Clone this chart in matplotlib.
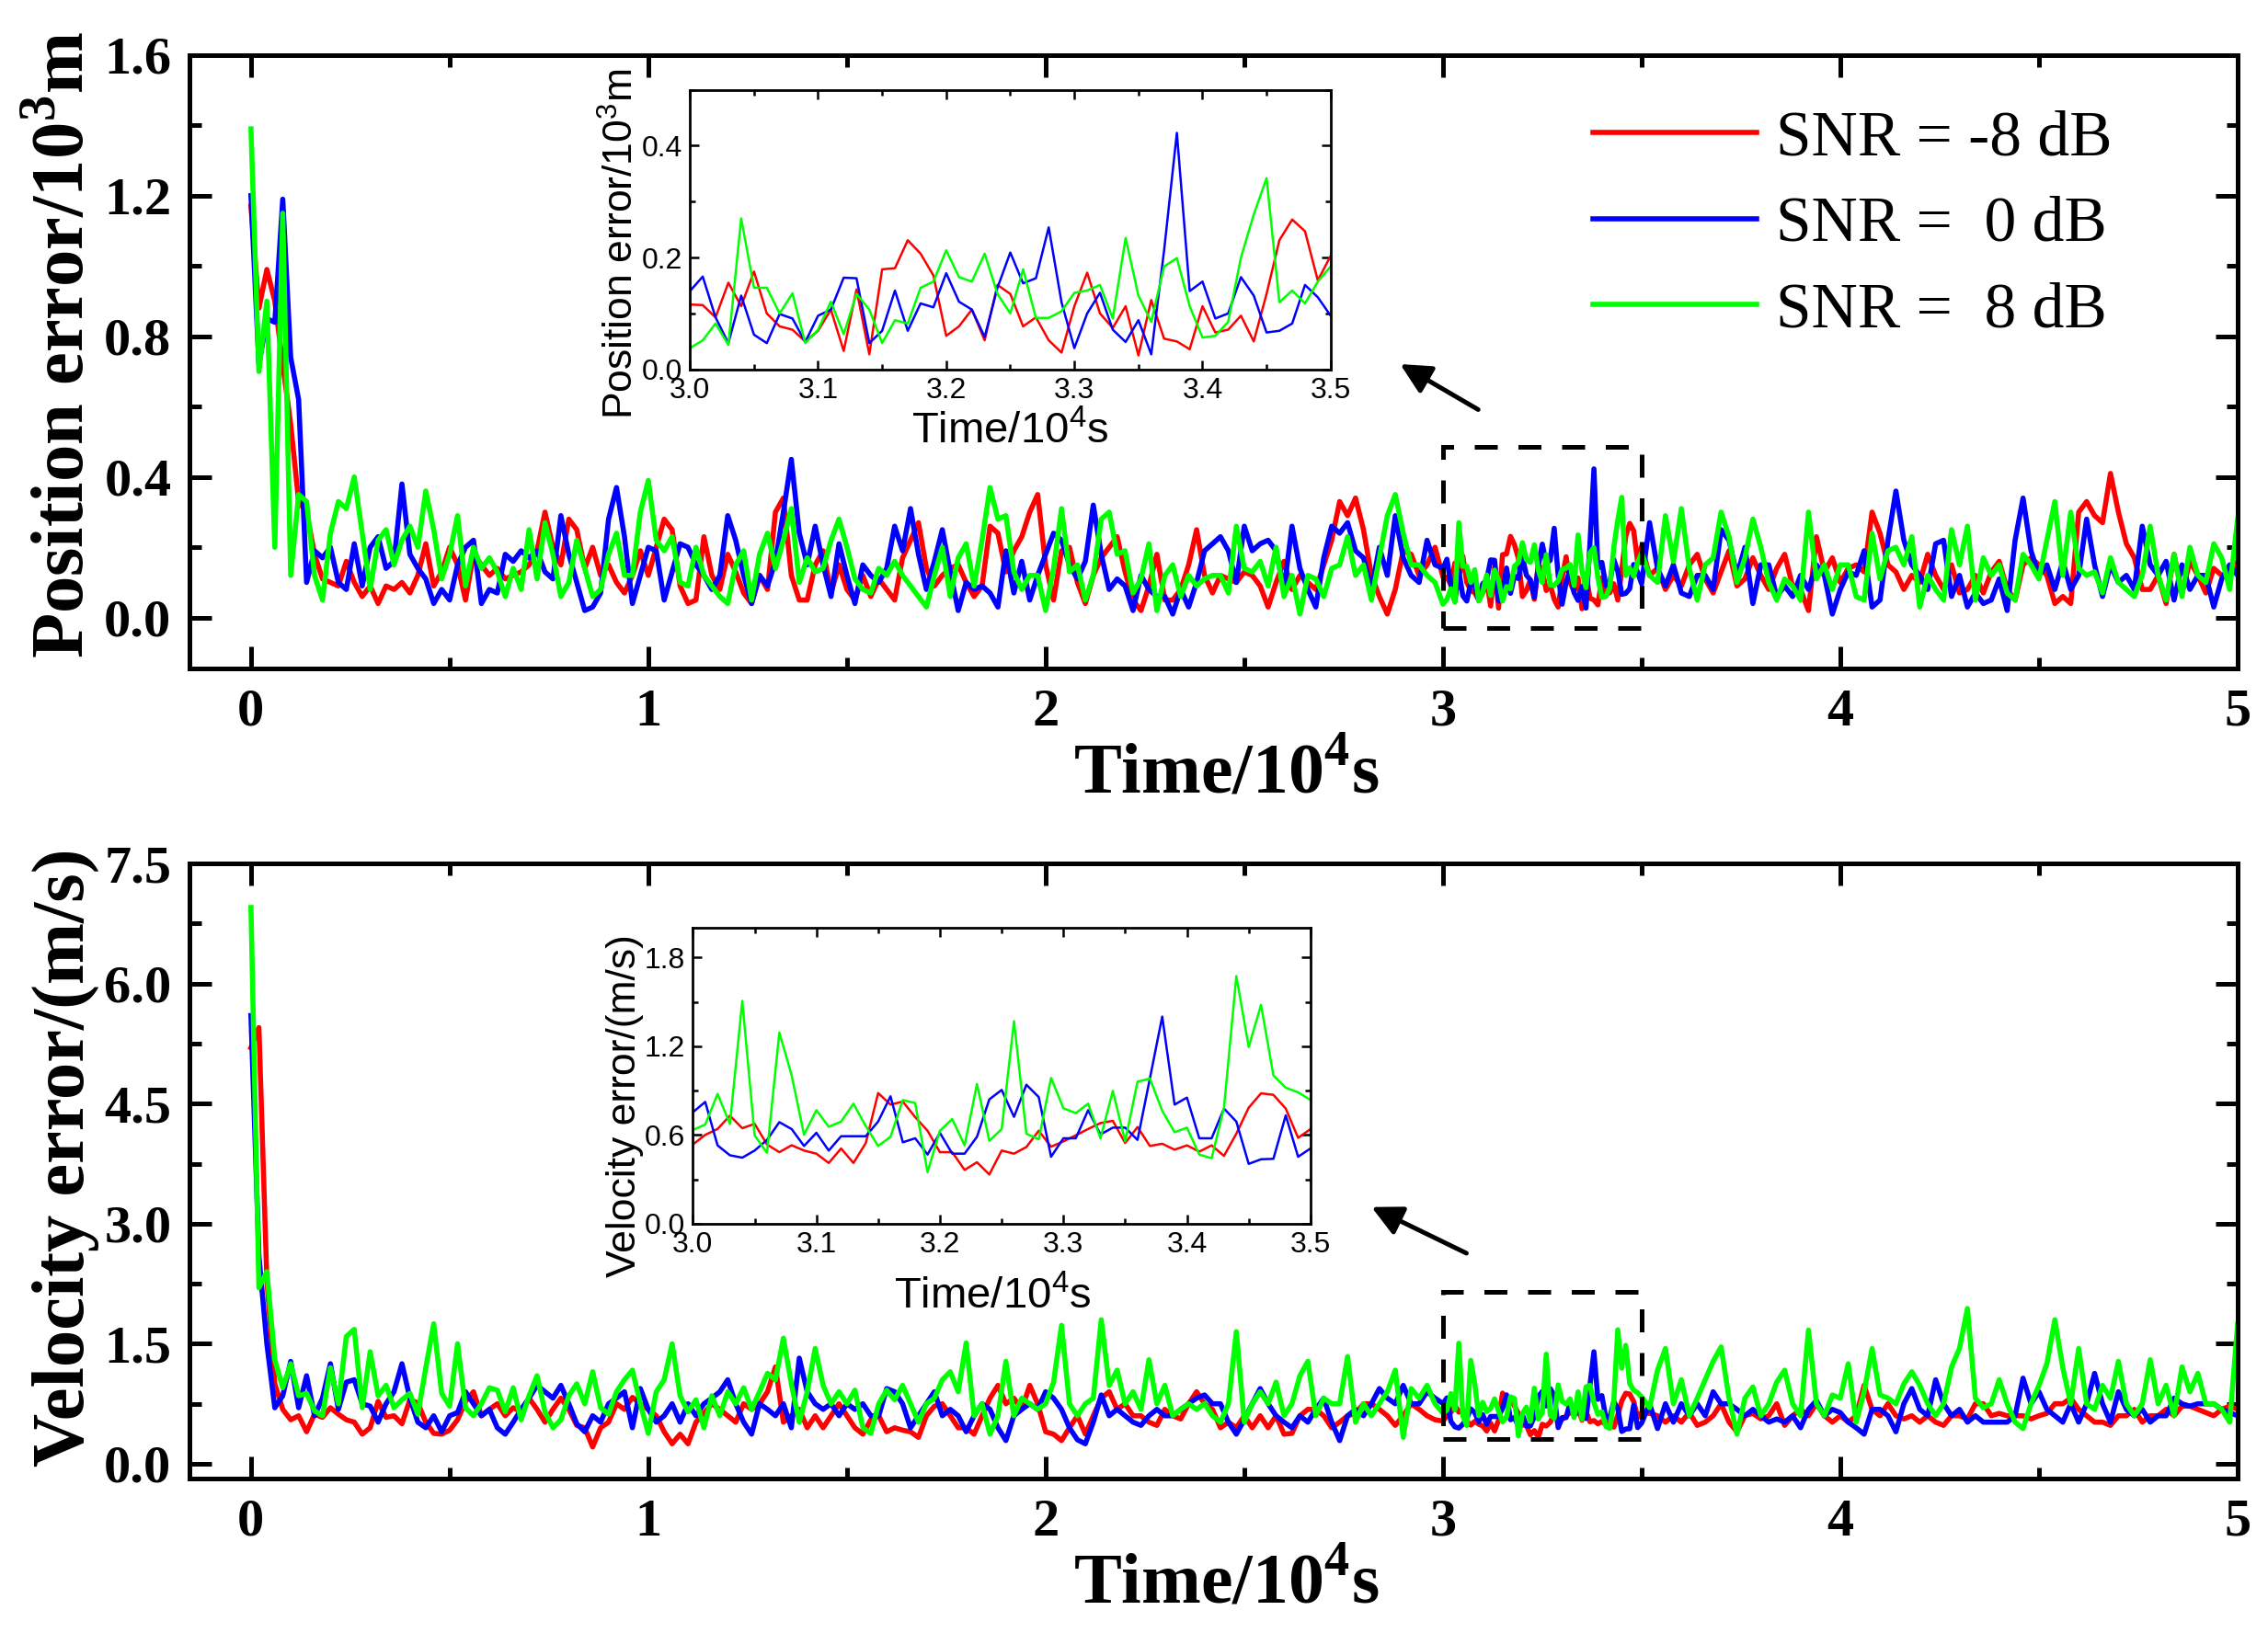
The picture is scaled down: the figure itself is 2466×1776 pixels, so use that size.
import numpy as np
import matplotlib
matplotlib.use("Agg")
import matplotlib.pyplot as plt
from matplotlib.ticker import MultipleLocator, FormatStrFormatter
from matplotlib.patches import Rectangle

plt.rcParams['mathtext.fontset'] = 'custom'
plt.rcParams['mathtext.rm'] = 'Liberation Sans'
plt.rcParams['mathtext.bf'] = 'Liberation Serif:bold'

# ~ Données (temps en 10^4 s)
labels = ["SNR = -8 dB", "SNR =  0 dB", "SNR =  8 dB"]
colors = ["#ff0000", "#0000ff", "#00ff00"]

# ~ pas de 0.02 de 0 a 2.98
pos_red_a = [1.17, 0.88, 0.99, 0.90, 0.72, 0.55, 0.33, 0.30, 0.18, 0.11,
             0.10, 0.09, 0.16, 0.10, 0.06, 0.09, 0.04, 0.09, 0.08, 0.10,
             0.07, 0.12, 0.21, 0.09, 0.13, 0.20, 0.15, 0.05, 0.18, 0.15,
             0.12, 0.14, 0.11, 0.12, 0.13, 0.15, 0.19, 0.30, 0.20, 0.15,
             0.28, 0.25, 0.14, 0.20, 0.12, 0.15, 0.10, 0.07, 0.12, 0.19,
             0.12, 0.20, 0.28, 0.25, 0.09, 0.04, 0.05, 0.23, 0.12, 0.08,
             0.18, 0.13, 0.07, 0.04, 0.12, 0.08, 0.30, 0.34, 0.12, 0.05,
             0.05, 0.15, 0.19, 0.07, 0.15, 0.08, 0.05, 0.12, 0.06, 0.11,
             0.08, 0.05, 0.17, 0.22, 0.27, 0.14, 0.09, 0.12, 0.14, 0.15,
             0.10, 0.06, 0.09, 0.26, 0.24, 0.13, 0.19, 0.23, 0.30, 0.35,
             0.15, 0.05, 0.19, 0.20, 0.10, 0.04, 0.12, 0.17, 0.20, 0.23,
             0.13, 0.05, 0.02, 0.09, 0.18, 0.05, 0.05, 0.08, 0.15, 0.25,
             0.12, 0.07, 0.12, 0.11, 0.10, 0.13, 0.12, 0.09, 0.03, 0.10,
             0.16, 0.08, 0.12, 0.10, 0.08, 0.15, 0.22, 0.33, 0.29, 0.34,
             0.25, 0.12, 0.06, 0.01, 0.08, 0.19, 0.18, 0.12, 0.15, 0.20]
pos_blue_a = [1.20, 0.72, 0.85, 0.84, 1.19, 0.74, 0.62, 0.10, 0.19, 0.17,
              0.20, 0.10, 0.08, 0.21, 0.09, 0.20, 0.23, 0.14, 0.16, 0.38,
              0.18, 0.14, 0.11, 0.04, 0.08, 0.05, 0.15, 0.20, 0.22, 0.04,
              0.08, 0.07, 0.18, 0.16, 0.19, 0.17, 0.19, 0.13, 0.11, 0.29,
              0.18, 0.10, 0.02, 0.03, 0.07, 0.28, 0.37, 0.23, 0.04, 0.12,
              0.20, 0.19, 0.05, 0.13, 0.21, 0.20, 0.15, 0.12, 0.08, 0.12,
              0.29, 0.22, 0.12, 0.04, 0.12, 0.09, 0.16, 0.30, 0.45, 0.24,
              0.15, 0.26, 0.15, 0.06, 0.21, 0.12, 0.04, 0.15, 0.12, 0.10,
              0.14, 0.26, 0.19, 0.31, 0.18, 0.08, 0.16, 0.25, 0.13, 0.02,
              0.10, 0.08, 0.09, 0.07, 0.03, 0.19, 0.07, 0.16, 0.05, 0.12,
              0.18, 0.24, 0.22, 0.15, 0.11, 0.16, 0.32, 0.18, 0.08, 0.11,
              0.09, 0.02, 0.12, 0.08, 0.06, 0.06, 0.01, 0.08, 0.03, 0.10,
              0.19, 0.21, 0.23, 0.19, 0.10, 0.26, 0.19, 0.21, 0.22, 0.19,
              0.08, 0.26, 0.14, 0.08, 0.03, 0.17, 0.26, 0.24, 0.27, 0.19,
              0.17, 0.08, 0.20, 0.12, 0.29, 0.17, 0.12, 0.10, 0.22, 0.15]
pos_green_a = [1.39, 0.70, 0.90, 0.20, 1.15, 0.12, 0.35, 0.33, 0.12, 0.05,
               0.24, 0.33, 0.31, 0.40, 0.24, 0.08, 0.22, 0.25, 0.15, 0.22,
               0.26, 0.20, 0.36, 0.25, 0.11, 0.18, 0.29, 0.09, 0.20, 0.14,
               0.17, 0.13, 0.06, 0.14, 0.08, 0.25, 0.11, 0.27, 0.18, 0.06,
               0.10, 0.22, 0.14, 0.06, 0.08, 0.18, 0.24, 0.12, 0.12, 0.30,
               0.39, 0.22, 0.19, 0.23, 0.10, 0.09, 0.20, 0.12, 0.09, 0.06,
               0.04, 0.15, 0.19, 0.05, 0.18, 0.24, 0.14, 0.22, 0.31, 0.10,
               0.17, 0.13, 0.14, 0.22, 0.28, 0.20, 0.11, 0.08, 0.07, 0.14,
               0.12, 0.16, 0.12, 0.09, 0.06, 0.03, 0.12, 0.20, 0.06, 0.17,
               0.21, 0.09, 0.22, 0.37, 0.28, 0.29, 0.13, 0.08, 0.12, 0.12,
               0.02, 0.14, 0.31, 0.13, 0.15, 0.05, 0.12, 0.28, 0.30, 0.18,
               0.19, 0.07, 0.11, 0.21, 0.02, 0.12, 0.15, 0.06, 0.12, 0.09,
               0.11, 0.12, 0.12, 0.07, 0.26, 0.14, 0.13, 0.16, 0.09, 0.20,
               0.06, 0.12, 0.01, 0.12, 0.11, 0.06, 0.14, 0.15, 0.23, 0.12,
               0.15, 0.05, 0.17, 0.29, 0.35, 0.24, 0.15, 0.15, 0.12, 0.10]

# ~ zoom 3.0 - 3.5, pas de 0.01
pos_in_red = [0.116, 0.115, 0.093, 0.155, 0.113, 0.175, 0.100, 0.077, 0.071, 0.050,
              0.069, 0.107, 0.033, 0.143, 0.027, 0.179, 0.181, 0.231, 0.207, 0.168,
              0.060, 0.077, 0.107, 0.052, 0.151, 0.135, 0.077, 0.093, 0.052, 0.030,
              0.113, 0.173, 0.100, 0.074, 0.113, 0.025, 0.124, 0.055, 0.050, 0.036,
              0.113, 0.066, 0.071, 0.096, 0.050, 0.135, 0.231, 0.268, 0.247, 0.159,
              0.203]
pos_in_blue = [0.140, 0.166, 0.093, 0.047, 0.132, 0.062, 0.047, 0.099, 0.091, 0.049,
               0.096, 0.107, 0.164, 0.163, 0.047, 0.069, 0.141, 0.069, 0.118, 0.111,
               0.172, 0.121, 0.107, 0.058, 0.146, 0.209, 0.154, 0.163, 0.254, 0.120,
               0.038, 0.100, 0.137, 0.071, 0.049, 0.088, 0.027, 0.212, 0.423, 0.140,
               0.157, 0.091, 0.100, 0.165, 0.132, 0.066, 0.069, 0.082, 0.151, 0.129,
               0.096]
pos_in_green = [0.038, 0.052, 0.082, 0.044, 0.270, 0.146, 0.146, 0.100, 0.136, 0.047,
                0.071, 0.121, 0.063, 0.135, 0.107, 0.047, 0.088, 0.082, 0.146, 0.157,
                0.213, 0.165, 0.157, 0.207, 0.135, 0.100, 0.179, 0.092, 0.092, 0.104,
                0.137, 0.141, 0.151, 0.091, 0.235, 0.132, 0.085, 0.184, 0.199, 0.113,
                0.057, 0.060, 0.085, 0.200, 0.277, 0.342, 0.120, 0.141, 0.118, 0.157,
                0.184]

# ~ pas de 0.02 de 3.52 a 5.0
pos_red_b = [0.12, 0.14, 0.08, 0.12, 0.09, 0.15, 0.18, 0.11, 0.07, 0.13,
             0.19, 0.09, 0.11, 0.17, 0.12, 0.08, 0.14, 0.18, 0.09, 0.08,
             0.02, 0.23, 0.13, 0.17, 0.10, 0.14, 0.15, 0.13, 0.30, 0.24,
             0.15, 0.13, 0.08, 0.12, 0.10, 0.18, 0.12, 0.08, 0.15, 0.07,
             0.08, 0.12, 0.07, 0.13, 0.16, 0.08, 0.05, 0.15, 0.17, 0.15,
             0.12, 0.04, 0.06, 0.04, 0.30, 0.33, 0.29, 0.27, 0.41, 0.30,
             0.21, 0.17, 0.08, 0.08, 0.12, 0.04, 0.18, 0.07, 0.16, 0.12,
             0.07, 0.14, 0.12, 0.12, 0.16]
pos_blue_b = [0.27, 0.14, 0.09, 0.15, 0.07, 0.06, 0.12, 0.12, 0.08, 0.25,
              0.22, 0.12, 0.20, 0.04, 0.15, 0.15, 0.06, 0.09, 0.06, 0.12,
              0.08, 0.15, 0.12, 0.01, 0.08, 0.13, 0.12, 0.19, 0.03, 0.05,
              0.22, 0.36, 0.22, 0.15, 0.12, 0.08, 0.21, 0.22, 0.06, 0.12,
              0.03, 0.07, 0.04, 0.05, 0.11, 0.02, 0.22, 0.34, 0.19, 0.12,
              0.15, 0.08, 0.16, 0.08, 0.12, 0.28, 0.15, 0.06, 0.15, 0.10,
              0.12, 0.08, 0.26, 0.15, 0.12, 0.16, 0.05, 0.15, 0.08, 0.12,
              0.12, 0.03, 0.11, 0.15, 0.12]
pos_green_b = [0.12, 0.10, 0.29, 0.16, 0.31, 0.14, 0.05, 0.15, 0.17, 0.30,
               0.23, 0.10, 0.17, 0.28, 0.20, 0.10, 0.05, 0.11, 0.09, 0.05,
               0.30, 0.11, 0.15, 0.08, 0.15, 0.15, 0.06, 0.05, 0.24, 0.11,
               0.19, 0.20, 0.15, 0.23, 0.03, 0.12, 0.08, 0.05, 0.25, 0.15,
               0.26, 0.05, 0.17, 0.12, 0.15, 0.07, 0.05, 0.18, 0.15, 0.11,
               0.22, 0.33, 0.12, 0.30, 0.14, 0.12, 0.13, 0.07, 0.17, 0.10,
               0.08, 0.06, 0.12, 0.26, 0.12, 0.05, 0.18, 0.06, 0.20, 0.12,
               0.10, 0.21, 0.17, 0.08, 0.28]

vel_red_a = [5.20, 5.45, 2.30, 1.00, 0.68, 0.55, 0.60, 0.40, 0.62, 0.58,
             0.70, 0.62, 0.55, 0.52, 0.37, 0.45, 0.78, 0.58, 0.60, 0.50,
             0.80, 0.76, 0.52, 0.38, 0.37, 0.42, 0.55, 0.78, 0.90, 0.60,
             0.68, 0.75, 0.60, 0.70, 0.65, 0.82, 0.68, 0.52, 0.68, 0.82,
             0.68, 0.48, 0.45, 0.21, 0.45, 0.52, 0.75, 0.68, 0.83, 0.75,
             0.68, 0.60, 0.40, 0.25, 0.37, 0.25, 0.52, 0.63, 0.75, 0.68,
             0.60, 0.52, 0.75, 0.68, 0.75, 0.90, 1.21, 0.52, 0.60, 0.68,
             0.45, 0.60, 0.45, 0.60, 0.75, 0.60, 0.45, 0.37, 0.55, 0.60,
             0.40, 0.45, 0.42, 0.40, 0.33, 0.60, 0.72, 0.75, 0.60, 0.45,
             0.45, 0.37, 0.60, 0.82, 0.98, 0.75, 0.82, 0.68, 0.98, 0.75,
             0.40, 0.37, 0.29, 0.45, 0.60, 0.37, 0.60, 0.82, 0.90, 0.68,
             0.75, 0.60, 0.60, 0.52, 0.48, 0.68, 0.60, 0.56, 0.75, 0.90,
             0.75, 0.68, 0.45, 0.52, 0.45, 0.60, 0.45, 0.60, 0.45, 0.60,
             0.37, 0.38, 0.60, 0.68, 0.68, 0.60, 0.45, 0.52, 0.60, 0.63,
             0.75, 0.75, 0.68, 0.60, 0.48, 0.60, 0.75, 0.68, 0.60, 0.55]
vel_blue_a = [5.60, 2.60, 1.50, 0.70, 0.85, 1.28, 0.70, 1.10, 0.60, 0.82,
              1.25, 0.68, 1.02, 1.05, 0.75, 0.72, 0.52, 0.75, 0.90, 1.25,
              0.82, 0.52, 0.45, 0.60, 0.40, 0.60, 0.64, 0.90, 0.75, 0.60,
              0.68, 0.45, 0.37, 0.52, 0.68, 0.82, 0.98, 0.90, 0.82, 0.98,
              0.75, 0.50, 0.40, 0.60, 0.52, 0.75, 0.82, 0.90, 0.45, 0.94,
              0.68, 0.52, 0.60, 0.75, 0.52, 0.75, 0.60, 0.75, 0.82, 0.90,
              1.05, 0.75, 0.52, 0.37, 0.75, 0.68, 0.60, 0.75, 0.45, 1.32,
              0.90, 0.75, 0.68, 0.75, 0.60, 0.75, 0.68, 0.75, 0.60, 0.60,
              0.94, 0.90, 0.75, 0.45, 0.60, 0.75, 0.90, 0.60, 0.68, 0.60,
              0.40, 0.60, 0.75, 0.68, 0.45, 0.29, 0.60, 0.68, 0.75, 0.68,
              0.90, 0.82, 0.68, 0.45, 0.30, 0.25, 0.52, 0.86, 0.60, 0.68,
              0.60, 0.52, 0.48, 0.60, 0.68, 0.60, 0.60, 0.68, 0.75, 0.82,
              0.86, 0.75, 0.75, 0.52, 0.37, 0.55, 0.75, 0.94, 0.75, 0.60,
              0.52, 0.45, 0.60, 0.52, 0.68, 0.82, 0.52, 0.29, 0.60, 0.68,
              0.60, 0.75, 0.94, 0.82, 0.75, 0.98, 0.75, 0.75, 0.90, 0.82]
vel_green_a = [6.95, 2.20, 2.40, 1.30, 0.95, 1.25, 0.85, 0.88, 0.66, 0.60,
               1.20, 0.75, 1.59, 1.68, 0.70, 1.40, 0.85, 0.98, 0.70, 0.80,
               0.88, 0.62, 1.20, 1.75, 0.88, 0.72, 1.50, 0.70, 0.60, 0.75,
               0.95, 0.92, 0.65, 0.95, 0.55, 0.85, 1.10, 0.65, 0.45, 0.55,
               0.85, 1.00, 0.75, 1.15, 0.70, 0.62, 0.90, 1.05, 1.17, 0.75,
               0.38, 0.90, 1.05, 1.50, 0.85, 0.65, 0.80, 0.45, 0.85, 0.60,
               0.90, 0.75, 0.95, 0.68, 0.90, 1.13, 1.05, 1.57, 1.00, 0.52,
               0.90, 1.44, 0.98, 0.75, 0.90, 0.75, 0.92, 0.45, 0.38, 0.75,
               0.92, 0.80, 0.98, 0.75, 0.52, 0.75, 0.82, 1.05, 1.15, 0.90,
               1.51, 0.60, 0.75, 0.37, 0.60, 1.28, 0.60, 0.82, 0.75, 0.68,
               0.75, 1.02, 1.73, 0.75, 0.60, 0.75, 0.82, 1.80, 0.98, 1.17,
               0.75, 0.90, 0.68, 1.30, 0.75, 0.98, 0.60, 0.68, 0.75, 0.68,
               0.75, 0.60, 0.52, 0.75, 1.65, 0.52, 0.75, 0.90, 0.75, 1.02,
               0.60, 0.75, 1.10, 1.28, 0.60, 0.82, 0.75, 0.75, 1.34, 0.52,
               0.75, 0.60, 0.75, 0.90, 1.17, 0.33, 0.94, 0.82, 0.98, 0.75]

vel_in_red = [0.535, 0.600, 0.640, 0.730, 0.645, 0.675, 0.535, 0.483, 0.530, 0.494,
              0.473, 0.410, 0.508, 0.410, 0.545, 0.883, 0.805, 0.825, 0.720, 0.628,
              0.483, 0.483, 0.363, 0.415, 0.332, 0.494, 0.473, 0.518, 0.628, 0.520,
              0.556, 0.597, 0.640, 0.680, 0.695, 0.545, 0.653, 0.525, 0.540, 0.500,
              0.529, 0.487, 0.529, 0.458, 0.608, 0.784, 0.881, 0.871, 0.778, 0.580,
              0.639]
vel_in_blue = [0.753, 0.823, 0.529, 0.462, 0.446, 0.494, 0.566, 0.686, 0.639, 0.525,
               0.614, 0.494, 0.591, 0.591, 0.591, 0.690, 0.861, 0.550, 0.577, 0.467,
               0.614, 0.473, 0.473, 0.587, 0.840, 0.904, 0.722, 0.939, 0.856, 0.452,
               0.577, 0.577, 0.767, 0.603, 0.649, 0.649, 0.566, 0.981, 1.400, 0.805,
               0.852, 0.577, 0.577, 0.778, 0.690, 0.404, 0.435, 0.438, 0.732, 0.452,
               0.508]
vel_in_green = [0.633, 0.670, 0.877, 0.674, 1.506, 0.597, 0.479, 1.292, 1.002, 0.601,
                0.767, 0.655, 0.690, 0.811, 0.659, 0.525, 0.587, 0.836, 0.815, 0.348,
                0.628, 0.707, 0.529, 0.944, 0.560, 0.639, 1.369, 0.608, 0.570, 0.985,
                0.780, 0.747, 0.811, 0.577, 0.898, 0.556, 0.960, 0.981, 0.763, 0.618,
                0.649, 0.467, 0.442, 0.784, 1.674, 1.195, 1.479, 1.002, 0.919, 0.888,
                0.836]

vel_red_b = [0.63, 0.60, 0.52, 0.60, 0.52, 0.64, 0.48, 0.52, 0.60, 0.75,
             0.52, 0.40, 0.60, 0.63, 0.56, 0.60, 0.75, 0.48, 0.60, 0.68,
             0.60, 0.75, 0.60, 0.52, 0.60, 0.52, 0.60, 0.98, 0.68, 0.60,
             0.75, 0.60, 0.56, 0.60, 0.52, 0.60, 0.52, 0.48, 0.60, 0.60,
             0.56, 0.75, 0.75, 0.60, 0.63, 0.60, 0.60, 0.60, 0.56, 0.60,
             0.63, 0.75, 0.75, 0.82, 0.68, 0.60, 0.52, 0.52, 0.48, 0.60,
             0.60, 0.68, 0.52, 0.60, 0.60, 0.68, 0.60, 0.72, 0.72, 0.68,
             0.64, 0.60, 0.68, 0.72, 0.68]
vel_blue_b = [0.75, 0.44, 0.75, 0.52, 0.75, 0.60, 0.75, 0.60, 0.90, 0.75,
              0.75, 0.68, 0.60, 0.68, 0.60, 0.52, 0.56, 0.52, 0.60, 0.45,
              0.68, 0.79, 0.60, 0.68, 0.64, 0.52, 0.45, 0.37, 0.68, 0.68,
              0.60, 0.40, 0.75, 0.94, 0.68, 0.60, 1.05, 0.75, 0.60, 0.68,
              0.52, 0.60, 0.52, 0.52, 0.52, 0.52, 0.60, 1.07, 0.75, 0.90,
              0.68, 0.60, 0.52, 0.75, 0.52, 0.75, 1.13, 0.75, 0.52, 0.90,
              0.68, 0.60, 0.68, 0.52, 0.60, 0.60, 0.82, 0.75, 0.72, 0.75,
              0.75, 0.75, 0.68, 0.64, 0.60]
vel_green_b = [0.70, 1.17, 1.44, 0.75, 1.05, 0.60, 0.82, 1.05, 1.28, 1.46,
               0.82, 0.37, 0.82, 0.96, 0.60, 0.75, 1.02, 1.17, 0.75, 0.60,
               1.67, 0.75, 0.60, 0.86, 0.82, 1.25, 0.52, 0.90, 1.44, 0.86,
               0.82, 0.75, 1.00, 1.15, 0.98, 0.75, 0.60, 0.75, 1.21, 1.44,
               1.94, 0.82, 0.70, 0.75, 1.05, 0.75, 0.52, 0.44, 0.75, 0.98,
               1.25, 1.80, 1.20, 0.75, 1.44, 0.75, 0.68, 0.98, 0.82, 1.28,
               0.75, 0.60, 0.75, 1.30, 0.75, 0.98, 0.60, 1.21, 0.90, 1.13,
               0.75, 0.75, 0.68, 0.52, 1.74]

# ~ Axes du temps
t_a = np.arange(len(pos_red_a)) * 0.02
t_in = 3.0 + np.arange(len(pos_in_red)) * 0.01
t_b = 3.5 + np.arange(1, len(pos_red_b) + 1) * 0.02
t_all = np.concatenate([t_a, t_in, t_b])

pos_all = [np.concatenate([a, m, b]) for a, m, b in
           [(pos_red_a, pos_in_red, pos_red_b),
            (pos_blue_a, pos_in_blue, pos_blue_b),
            (pos_green_a, pos_in_green, pos_green_b)]]
vel_all = [np.concatenate([a, m, b]) for a, m, b in
           [(vel_red_a, vel_in_red, vel_red_b),
            (vel_blue_a, vel_in_blue, vel_blue_b),
            (vel_green_a, vel_in_green, vel_green_b)]]
pos_in = [pos_in_red, pos_in_blue, pos_in_green]
vel_in = [vel_in_red, vel_in_blue, vel_in_green]

serif_b = dict(family='Liberation Serif', weight='bold')
sans = dict(family='Liberation Sans')

fig = plt.figure(figsize=(12.33, 8.88), dpi=200)
ax1 = fig.add_axes([0.0835, 0.5908, 0.9031, 0.3755])
ax2 = fig.add_axes([0.0835, 0.0948, 0.9031, 0.3764])
in1 = fig.add_axes([0.3042, 0.7738, 0.2825, 0.1712])
in2 = fig.add_axes([0.3055, 0.2507, 0.2723, 0.1811])


def style_main(ax, ymaj, ymin):
    ax.set_xlim(-0.155, 5.0)
    ax.xaxis.set_major_locator(MultipleLocator(1))
    ax.xaxis.set_minor_locator(MultipleLocator(0.5))
    ax.yaxis.set_major_locator(MultipleLocator(ymaj))
    ax.yaxis.set_minor_locator(MultipleLocator(ymin))
    ax.yaxis.set_major_formatter(FormatStrFormatter('%.1f'))
    ax.tick_params(which='both', direction='in', top=True, right=True, width=1.8)
    ax.tick_params(which='major', length=8.5, labelsize=21)
    ax.tick_params(which='minor', length=4.5)
    ax.tick_params(axis='y', pad=7)
    ax.tick_params(axis='x', pad=8)
    for s in ax.spines.values():
        s.set_linewidth(1.8)
    for lab in ax.get_xticklabels() + ax.get_yticklabels():
        lab.set_fontfamily('Liberation Serif')
        lab.set_fontweight('bold')
    ax.set_xlabel(r'Time/10$^{\mathbf{4}}$s', fontsize=28, **serif_b)
    ax.xaxis.set_label_coords(0.506, -0.122)


def style_inset(ax, ymax, ymaj, ymin):
    ax.set_xlim(3.0, 3.5)
    ax.set_ylim(0, ymax)
    ax.xaxis.set_major_locator(MultipleLocator(0.1))
    ax.xaxis.set_minor_locator(MultipleLocator(0.05))
    ax.yaxis.set_major_locator(MultipleLocator(ymaj))
    ax.yaxis.set_minor_locator(MultipleLocator(ymin))
    ax.xaxis.set_major_formatter(FormatStrFormatter('%.1f'))
    ax.yaxis.set_major_formatter(FormatStrFormatter('%.1f'))
    ax.tick_params(which='both', direction='in', top=True, right=True, width=0.9)
    ax.tick_params(which='major', length=3.5, labelsize=11.5, pad=3)
    ax.tick_params(which='minor', length=2)
    for s in ax.spines.values():
        s.set_linewidth(1.0)
    for lab in ax.get_xticklabels() + ax.get_yticklabels():
        lab.set_fontfamily('Liberation Sans')
    ax.set_xlabel(r'Time/10$^{4}$s', fontsize=17, **sans)


# ~ Erreur de position
for y, c, lab in zip(pos_all, colors, labels):
    ax1.plot(t_all, y, color=c, lw=2.0, label=lab)
ax1.set_ylim(-0.144, 1.6)
style_main(ax1, 0.4, 0.2)
ax1.set_ylabel(r'Position error/10$^{\mathbf{3}}$m', fontsize=29, **serif_b)
ax1.yaxis.set_label_coords(-0.044, 0.528)
ax1.add_patch(Rectangle((3.0, -0.03), 0.5, 0.515, fill=False, ec='k',
                        lw=1.8, ls=(0, (5, 4.5)), zorder=5))
leg = ax1.legend(loc='upper left', bbox_to_anchor=(0.7024, 0.9325),
                 bbox_transform=fig.transFigure, frameon=False,
                 borderpad=0, borderaxespad=0, handlelength=2.56,
                 handletextpad=0.3, labelspacing=0.43,
                 prop=dict(family='Liberation Serif', size=25))

# ~ Erreur de vitesse
for y, c in zip(vel_all, colors):
    ax2.plot(t_all, y, color=c, lw=2.0)
ax2.set_ylim(-0.18, 7.5)
style_main(ax2, 1.5, 0.75)
ax2.set_ylabel('Velocity error/(m/s)', fontsize=29, **serif_b)
ax2.yaxis.set_label_coords(-0.044, 0.522)
ax2.add_patch(Rectangle((3.0, 0.31), 0.5, 1.84, fill=False, ec='k',
                        lw=1.8, ls=(0, (5, 4.5)), zorder=5))

# ~ Encarts
for y, c in zip(pos_in, colors):
    in1.plot(t_in, y, color=c, lw=0.9)
style_inset(in1, 0.5, 0.2, 0.1)
in1.set_ylabel(r'Position error/10$^{3}$m', fontsize=16, **sans)
in1.yaxis.set_label_coords(-0.075, 0.45)
in1.xaxis.set_label_coords(0.5, -0.15)

for y, c in zip(vel_in, colors):
    in2.plot(t_in, y, color=c, lw=0.9)
style_inset(in2, 2.0, 0.6, 0.3)
in2.set_ylabel('Velocity error/(m/s)', fontsize=16, **sans)
in2.yaxis.set_label_coords(-0.08, 0.40)
in2.xaxis.set_label_coords(0.485, -0.18)

# ~ Flèches vers les encarts
arrow = dict(arrowstyle='-|>', lw=1.8, color='k', mutation_scale=25)
fig.add_artist(plt.Annotation('', xy=(0.6154, 0.7786), xytext=(0.6537, 0.7476),
                              xycoords='figure fraction', arrowprops=arrow))
fig.add_artist(plt.Annotation('', xy=(0.6027, 0.2622), xytext=(0.6486, 0.2312),
                              xycoords='figure fraction', arrowprops=arrow))

fig.savefig('out.png', dpi=200)
